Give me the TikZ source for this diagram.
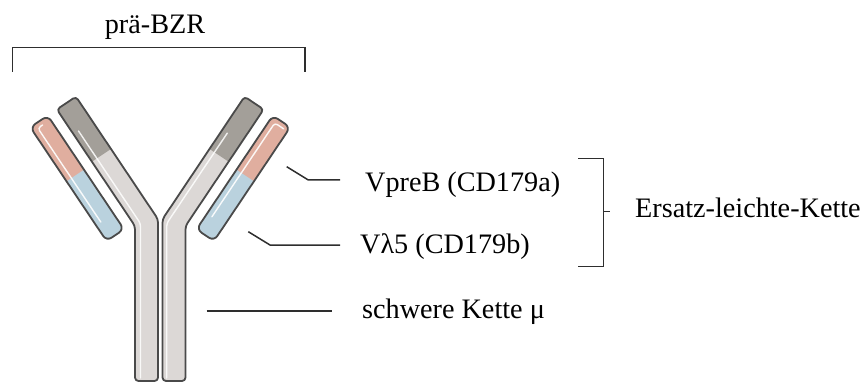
\documentclass[tikz,border=0pt]{standalone}
\usepackage{fontspec}
\setmainfont{Liberation Serif}
\definecolor{chainlight}{HTML}{DCD8D6}
\definecolor{chaindark}{HTML}{A39F99}
\definecolor{vpink}{HTML}{E0AE9F}
\definecolor{vblue}{HTML}{BAD2DE}
\definecolor{edgegray}{HTML}{4A4A4A}
\definecolor{leadergray}{HTML}{2E2E2E}

\begin{document}
\begin{tikzpicture}[x=1pt,y=-1pt,
  outline/.style={draw=edgegray, line width=1.8pt, line join=round},
  hl/.style={draw=white, line width=1.4pt, line cap=round, line join=round, rounded corners=3pt},
  leaderline/.style={draw=leadergray, line width=1.5pt},
  label/.style={inner sep=0pt, font=\fontsize{28.2}{32}\selectfont, text=black}]
\useasboundingbox (0,0) rectangle (864,382);

% one heavy chain (left half of the Y) and its surrogate light chain
\def\heavyshape{[rounded corners=3.5pt] (135,381) -- (135,226) -- (56.85,109.4) -- (75.95,96.6) -- (158,219.2) -- (158,381) -- cycle}
\def\lightshape{[rounded corners=6pt] (30.28,127.25) -- (47.72,115.55) -- (124.02,229.35) -- (106.58,241.05) -- cycle}

\def\chainfills{%
  \fill[chainlight] \heavyshape;
  \begin{scope}
    \clip \heavyshape;
    \fill[chaindark] (91.95,161.7) -- (111.05,148.9) -- (60,70) -- (30,90) -- cycle;
  \end{scope}
  \fill[vblue] \lightshape;
  \begin{scope}
    \clip \lightshape;
    \fill[vpink] (66.48,181.25) -- (83.92,169.55) -- (60,90) -- (10,110) -- cycle;
  \end{scope}}
\def\chainoutlines{%
  \path[outline] \heavyshape;
  \path[outline] \lightshape;}

% fills, left and mirrored right
\chainfills
\begin{scope}[shift={(320.5,0)}, xscale=-1]
  \chainfills
\end{scope}

% white highlights
\draw[hl, opacity=0.85] (78.5,131) -- (140.5,223.5) -- (140.5,378);
\draw[hl, opacity=0.85] (227.3,133.1) -- (166.7,223.5) -- (166.7,378);
\draw[hl, opacity=0.9] (42.61,124.99) -- (37.88,128.17) -- (100.79,222.02);
\draw[hl, opacity=0.9] (283.7,128.89) -- (274.82,122.93) -- (211.91,216.78);

% outlines
\chainoutlines
\begin{scope}[shift={(320.5,0)}, xscale=-1]
  \chainoutlines
\end{scope}

% labels
\node[label, anchor=base] (prebcr) at (155,33.5) {prä-BZR};
\node[label, anchor=base west] (vpreb) at (365,192) {VpreB (CD179a)};
\node[label, anchor=base west] (vl5) at (360,253) {Vλ5 (CD179b)};
\node[label, anchor=base west] (slc) at (635,218) {Ersatz-leichte-Kette};
\node[label, anchor=base west] (mu) at (362,318) {schwere Kette μ};

% bracket over the receptor
\coordinate (bl) at (12.7,71.7);
\coordinate (br) at (305,71.7);
\draw[leaderline] (bl) -- (12.7,47.3) -- (305,47.3) -- (br);

% leader lines
\coordinate (vpA) at (286.7,166.7);
\coordinate (vpB) at (308.3,180);
\coordinate (vpC) at (340,180);
\draw[leaderline] (vpA) -- (vpB) -- (vpC);
\coordinate (vlA) at (248.3,231.7);
\coordinate (vlB) at (270,245);
\coordinate (vlC) at (340,245);
\draw[leaderline] (vlA) -- (vlB) -- (vlC);
\coordinate (muA) at (206.7,311);
\coordinate (muB) at (332,311);
\draw[leaderline] (muA) -- (muB);

% bracket grouping the two light-chain parts
\coordinate (sbT) at (578,158.3);
\coordinate (sbB) at (578,266.7);
\coordinate (sbM) at (603.3,211.7);
\coordinate (sbTick) at (610,211.7);
\draw[leaderline] (sbT) -- (603.3,158.3) -- (603.3,266.7) -- (sbB);
\draw[leaderline] (sbM) -- (sbTick);
\end{tikzpicture}
\end{document}
